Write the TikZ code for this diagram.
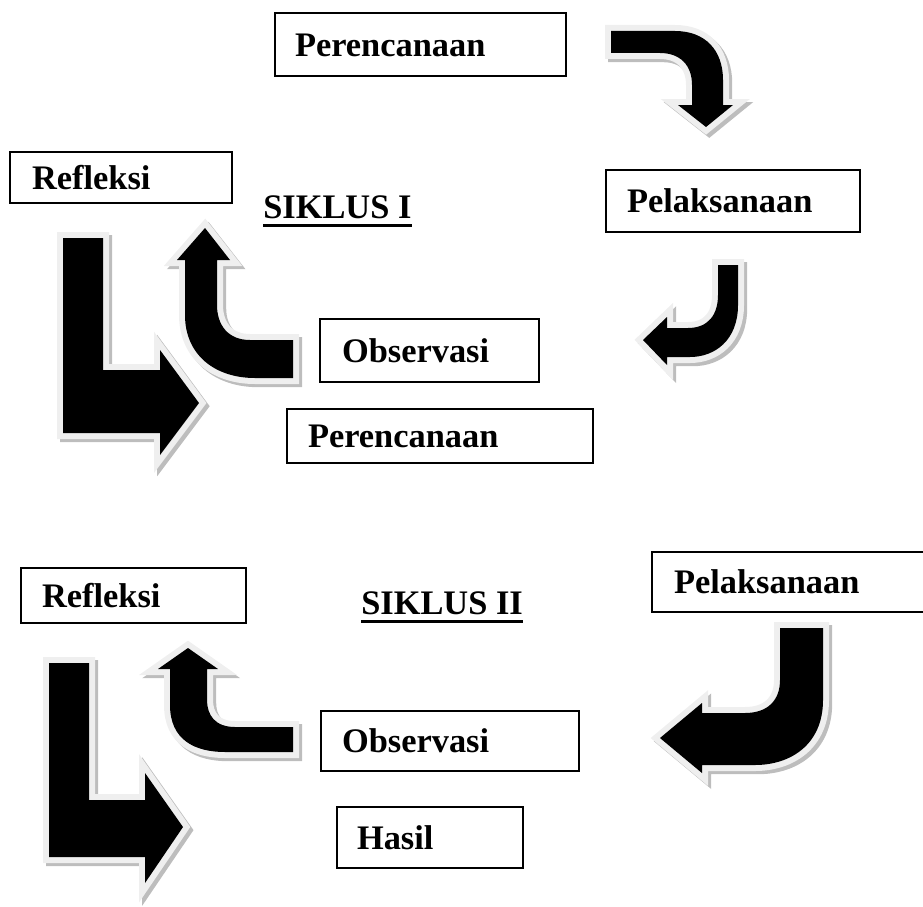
\documentclass[tikz,border=0pt]{standalone}
\usepackage{fontspec}
\setmainfont{Liberation Serif}
\definecolor{outl}{HTML}{EFEFEF}
\definecolor{shad}{HTML}{BDBDBD}
\newcommand\lblfont{\fontsize{25.8pt}{30pt}\selectfont\bfseries}
\begin{document}
\begin{tikzpicture}[x=0.75pt,y=-0.75pt,
  box/.style={draw=black, line width=1.5pt, fill=white, inner ysep=0pt, align=left,
    font=\lblfont, text height=17.5pt, text depth=0pt},
  title/.style={inner sep=0pt, font=\lblfont, text height=17.5pt, text depth=0pt},
  uline/.style={line width=1.9pt},
  blockarrow/.style={fill=black, line join=miter, miter limit=4,
    preaction={draw=shad, fill=shad, line width=9pt, line join=miter, miter limit=4,
      transform canvas={shift={(2.4pt,-2.4pt)}}},
    preaction={draw=outl, fill=outl, line width=9pt, line join=miter, miter limit=4}}
]
\useasboundingbox (0,0) rectangle (923,906);

% ---------- SIKLUS I ----------
% arrow: Perencanaan -> Pelaksanaan
\path[blockarrow] (611,31) -- (675,31) .. controls (705,31) and (723,50) .. (723,80)
  -- (723,105) -- (733,105) -- (706,127) -- (678,105) -- (692,105) -- (692,85)
  .. controls (692,65) and (680,53) .. (660,53) -- (611,53) -- cycle;
% arrow: Pelaksanaan -> Observasi
\path[blockarrow] (718,265) -- (738,265) -- (738,305) .. controls (738,340) and (715,357) .. (690,357)
  -- (667,357) -- (667,365) -- (643,340) -- (667,317) -- (667,328) -- (688,328)
  .. controls (708,328) and (718,315) .. (718,295) -- cycle;
% arrow: Observasi -> Refleksi
\path[blockarrow] (293,340) -- (250,340) .. controls (228,340) and (217,325) .. (217,305)
  -- (217,260) -- (230,260) -- (205,228) -- (177,260) -- (185,260) -- (185,315)
  .. controls (185,355) and (215,378) .. (255,378) -- (293,378) -- cycle;
% arrow: Refleksi -> Perencanaan
\path[blockarrow] (63,238) -- (103,238) -- (103,370) -- (160,370) -- (160,350) -- (199,403)
  -- (160,455) -- (160,433) -- (63,433) -- cycle;

\node[box, text width=188.25pt, inner xsep=15pt, minimum height=47.25pt] (per1) at (420.5,44.5) {Perencanaan};
\node[box, text width=159pt, inner xsep=15.75pt, minimum height=46.5pt] (pel1) at (733,201) {Pelaksanaan};
\node[box, text width=133.5pt, inner xsep=16.5pt, minimum height=38.25pt] (ref1) at (121,177.5) {Refleksi};
\node[box, text width=131.25pt, inner xsep=16.5pt, minimum height=47.25pt] (obs1) at (429.5,350.5) {Observasi};
\node[box, text width=198pt, inner xsep=15.75pt, minimum height=40.5pt] (per2) at (440,436) {Perencanaan};

\node[title, anchor=base west] (s1) at (263,218) {SIKLUS I};
\draw[uline] ([yshift=-5.5pt]s1.base west) -- ([yshift=-5.5pt]s1.base east);

% ---------- SIKLUS II ----------
% arrow: Pelaksanaan -> Observasi
\path[blockarrow] (780,628) -- (823,628) -- (823,700) .. controls (823,745) and (790,765) .. (755,765)
  -- (702,765) -- (702,773) -- (660,738) -- (702,703) -- (702,713) -- (745,713)
  .. controls (768,713) and (780,700) .. (780,680) -- cycle;
% arrow: Observasi -> Refleksi
\path[blockarrow] (293,727) -- (235,727) .. controls (215,727) and (207,715) .. (207,700)
  -- (207,669) -- (218,669) -- (188,648) -- (158,669) -- (170,669) -- (170,705)
  .. controls (170,740) and (195,752) .. (225,752) -- (293,752) -- cycle;
% arrow: Refleksi -> Hasil
\path[blockarrow] (49,663) -- (89,663) -- (89,800) -- (145,800) -- (145,773) -- (183,827)
  -- (145,883) -- (145,857) -- (49,857) -- cycle;

\node[box, text width=137.25pt, inner xsep=15.75pt, minimum height=41.25pt] (ref2) at (133.5,595.5) {Refleksi};
\node[box, text width=179.25pt, inner xsep=16.5pt, minimum height=45pt] (pel2) at (793.5,582) {Pelaksanaan};
\node[box, text width=162pt, inner xsep=15.75pt, minimum height=45pt] (obs2) at (450,741) {Observasi};
\node[box, text width=109.5pt, inner xsep=15pt, minimum height=45.75pt] (has) at (430,837.5) {Hasil};

\node[title, anchor=base west] (s2) at (361,614) {SIKLUS II};
\draw[uline] ([yshift=-5.5pt]s2.base west) -- ([yshift=-5.5pt]s2.base east);
\end{tikzpicture}
\end{document}
